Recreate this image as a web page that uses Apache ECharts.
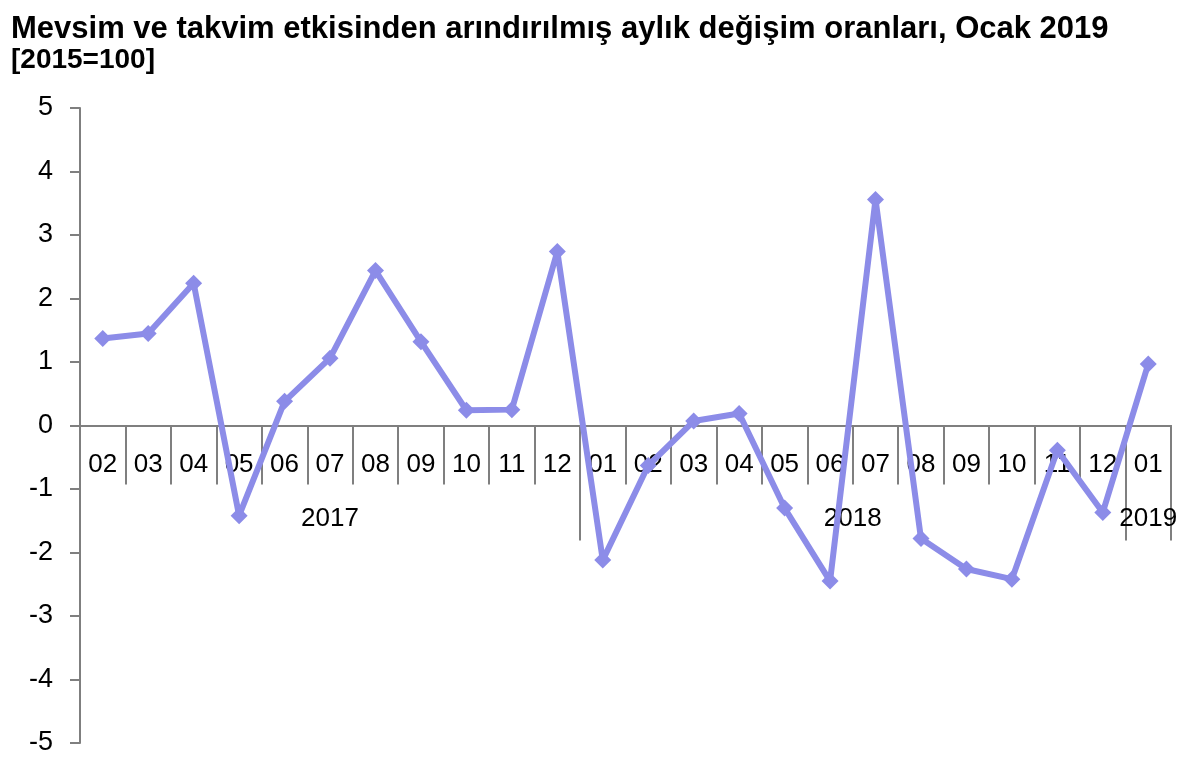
<!DOCTYPE html>
<html>
<head>
<meta charset="utf-8">
<script src="https://cdn.jsdelivr.net/npm/echarts@6/dist/echarts.min.js"></script>
<style>
html,body{margin:0;padding:0;background:#fff;}
#chart{width:1200px;height:764px;}
</style>
</head>
<body>
<div id="chart"></div>
<script>
// ---- data ----
var titleText = 'Mevsim ve takvim etkisinden arındırılmış aylık değişim oranları, Ocak 2019';
var subtitleText = '[2015=100]';
var months = ['02','03','04','05','06','07','08','09','10','11','12',
              '01','02','03','04','05','06','07','08','09','10','11','12',
              '01'];
var values = [1.37, 1.45, 2.24, -1.42, 0.38, 1.06, 2.44, 1.32, 0.24, 0.25, 2.74,
              -2.12, -0.63, 0.07, 0.19, -1.30, -2.45, 3.56, -1.78, -2.26, -2.42, -0.39, -1.37,
              0.97];
var yearNames = ['2017', '2018', '2019'];
var yearCounts = [11, 12, 1];
var yTicks = [-5, -4, -3, -2, -1, 0, 1, 2, 3, 4, 5];

// ---- derived ----
var yearStarts = [];
var acc = 0;
yearCounts.forEach(function (c) { yearStarts.push(acc); acc += c; });
var yearCenters = {};
yearNames.forEach(function (n, i) { yearCenters[(yearStarts[i] + yearCounts[i] / 2).toFixed(1)] = n; });
var sepIdx = yearStarts.slice(1).concat([months.length - 1]);

var font = '"Liberation Sans", Arial, sans-serif';
var axisGray = '#7f7f7f';
var lineColor = '#8c8ce8';

var W = 1200, H = 764;
var gridL = 80, gridR = 29, gridT = 108, gridB = 21;
var yMin = yTicks[0], yMax = yTicks[yTicks.length - 1];
var plotH = H - gridT - gridB;
// place the x axes on the y=0 line (offset inward from the grid bottom)
var zeroOffset = -plotH * (0 - yMin) / (yMax - yMin);

var chart = echarts.init(document.getElementById('chart'));
chart.setOption({
  animation: false,
  backgroundColor: '#ffffff',
  title: {
    text: '{a|' + titleText + '}\n{b|' + subtitleText + '}',
    left: 6,
    top: 8,
    textStyle: {
      rich: {
        a: { fontFamily: font, fontWeight: 'bold', fontSize: 31, lineHeight: 32, color: '#000' },
        b: { fontFamily: font, fontWeight: 'bold', fontSize: 28, lineHeight: 30, color: '#000' }
      }
    }
  },
  grid: { left: gridL, right: gridR, top: gridT, bottom: gridB },
  xAxis: [
    {
      type: 'category',
      data: months,
      position: 'bottom',
      offset: zeroOffset,
      boundaryGap: true,
      axisLine: { onZero: false, lineStyle: { color: axisGray, width: 2 } },
      axisTick: { show: true, interval: 0, length: 59, lineStyle: { color: axisGray, width: 2 } },
      axisLabel: { interval: 0, margin: 26, fontSize: 26, fontFamily: font, color: '#000' },
      splitLine: { show: false }
    },
    {
      type: 'category',
      data: months,
      position: 'bottom',
      offset: zeroOffset,
      boundaryGap: true,
      axisLine: { onZero: false, lineStyle: { color: axisGray, width: 2 } },
      axisTick: {
        show: true,
        length: 115,
        interval: function (i) { return sepIdx.indexOf(i) >= 0; },
        lineStyle: { color: axisGray, width: 2 }
      },
      axisLabel: { show: false },
      splitLine: { show: false }
    },
    {
      type: 'value',
      min: 0,
      max: months.length,
      interval: 0.5,
      position: 'bottom',
      offset: zeroOffset,
      axisLine: { show: false, onZero: false },
      axisTick: { show: false },
      splitLine: { show: false },
      axisLabel: {
        margin: 80,
        fontSize: 26,
        fontFamily: font,
        color: '#000',
        formatter: function (v) { return yearCenters[v.toFixed(1)] || ''; }
      }
    }
  ],
  yAxis: {
    type: 'value',
    min: yMin,
    max: yMax,
    interval: 1,
    axisLine: { show: true, lineStyle: { color: axisGray, width: 2 } },
    axisTick: { show: true, length: 10, lineStyle: { color: axisGray, width: 2 } },
    axisLabel: { margin: 27, fontSize: 27, fontFamily: font, color: '#000' },
    splitLine: { show: false }
  },
  series: [{
    type: 'line',
    xAxisIndex: 0,
    yAxisIndex: 0,
    data: values,
    symbol: 'diamond',
    symbolSize: 17,
    lineStyle: { color: lineColor, width: 6 },
    itemStyle: { color: lineColor },
    z: 5
  }]
});
</script>
</body>
</html>
